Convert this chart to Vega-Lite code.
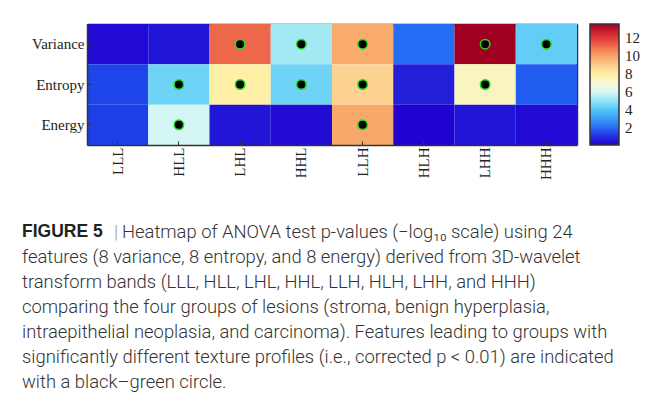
{
  "$schema": "https://vega.github.io/schema/vega-lite/v6.json",
  "background": "white",
  "padding": {"left": 22, "top": 23, "right": 5, "bottom": 5},
  "spacing": 40,
  "config": {"view": {"stroke": null}},
  "resolve": {"scale": {"color": "independent"}, "legend": {"color": "independent"}},
  "vconcat": [
    {
      "width": 490,
      "height": 121,
      "data": {"values": [
        {"feature": "Variance", "band": "LLL", "value": 0.3, "sig": false},
        {"feature": "Variance", "band": "HLL", "value": 0.5, "sig": false},
        {"feature": "Variance", "band": "LHL", "value": 11.2, "sig": true},
        {"feature": "Variance", "band": "HHL", "value": 5.3, "sig": true},
        {"feature": "Variance", "band": "LLH", "value": 9.8, "sig": true},
        {"feature": "Variance", "band": "HLH", "value": 2.1, "sig": false},
        {"feature": "Variance", "band": "LHH", "value": 13.6, "sig": true},
        {"feature": "Variance", "band": "HHH", "value": 4.3, "sig": true},
        {"feature": "Entropy", "band": "LLL", "value": 1.4, "sig": false},
        {"feature": "Entropy", "band": "HLL", "value": 4.5, "sig": true},
        {"feature": "Entropy", "band": "LHL", "value": 8.0, "sig": true},
        {"feature": "Entropy", "band": "HHL", "value": 4.5, "sig": true},
        {"feature": "Entropy", "band": "LLH", "value": 8.8, "sig": true},
        {"feature": "Entropy", "band": "HLH", "value": 0.7, "sig": false},
        {"feature": "Entropy", "band": "LHH", "value": 7.5, "sig": true},
        {"feature": "Entropy", "band": "HHH", "value": 1.8, "sig": false},
        {"feature": "Energy", "band": "LLL", "value": 1.3, "sig": false},
        {"feature": "Energy", "band": "HLL", "value": 6.0, "sig": true},
        {"feature": "Energy", "band": "LHL", "value": 0.5, "sig": false},
        {"feature": "Energy", "band": "HHL", "value": 0.3, "sig": false},
        {"feature": "Energy", "band": "LLH", "value": 9.9, "sig": true},
        {"feature": "Energy", "band": "HLH", "value": 0.2, "sig": false},
        {"feature": "Energy", "band": "LHH", "value": 0.5, "sig": false},
        {"feature": "Energy", "band": "HHH", "value": 0.3, "sig": false}
      ]},
      "layer": [
        {
          "mark": {"type": "rect"},
          "encoding": {
            "x": {"field": "band", "type": "nominal", "sort": ["LLL", "HLL", "LHL", "HHL", "LLH", "HLH", "LHH", "HHH"],
              "scale": {"paddingInner": 0, "paddingOuter": 0},
              "axis": {"title": null, "orient": "bottom", "labelAngle": 270, "labelFont": "Liberation Serif", "labelFontSize": 15, "labelColor": "#222",
                "domainColor": "#333", "domainWidth": 1.5, "tickColor": "#333", "tickSize": -4, "tickWidth": 1, "labelPadding": 6, "grid": false}},
            "y": {"field": "feature", "type": "nominal", "sort": ["Variance", "Entropy", "Energy"],
              "scale": {"paddingInner": 0, "paddingOuter": 0},
              "axis": {"title": null, "orient": "left", "labelFont": "Liberation Serif", "labelFontSize": 15, "labelColor": "#222",
                "domainColor": "#333", "domainWidth": 1.5, "tickColor": "#333", "tickSize": -4, "tickWidth": 1, "labelPadding": 7, "grid": false}},
            "color": {"field": "value", "type": "quantitative",
              "scale": {
                "domain": [0.15, 1, 2, 3, 4, 5, 6, 7, 8, 9, 10, 11, 12, 13, 13.6],
                "range": ["#2000d0", "#2428e0", "#2868f4", "#3a98f6", "#50c4f8", "#8ee2f8", "#d4f6f4", "#f6f8d8", "#fff0a8", "#fccc8c", "#f8a468", "#f07250", "#e03c3c", "#c01828", "#a00020"]
              },
              "legend": {"title": null, "orient": "right", "offset": 12, "padding": 0, "gradientLength": 121, "gradientThickness": 29,
                "gradientStrokeColor": "#333", "gradientStrokeWidth": 1.5, "values": [2, 4, 6, 8, 10, 12],
                "labelFont": "Liberation Serif", "labelFontSize": 15, "labelColor": "#222", "labelOffset": 6, "labelOverlap": false}}
          }
        },
        {
          "transform": [{"filter": "datum.sig"}],
          "mark": {"type": "point", "shape": "circle", "filled": true, "fill": "black", "stroke": "#22dd22", "strokeWidth": 1.5, "size": 90, "opacity": 1},
          "encoding": {
            "x": {"field": "band", "type": "nominal", "sort": ["LLL", "HLL", "LHL", "HHL", "LLH", "HLH", "LHH", "HHH"],
              "axis": {"title": null, "orient": "top", "labels": false, "domainColor": "#333", "domainWidth": 1.5, "tickColor": "#333", "tickSize": -4, "grid": false}},
            "y": {"field": "feature", "type": "nominal", "sort": ["Variance", "Entropy", "Energy"],
              "axis": {"title": null, "orient": "right", "labels": false, "domainColor": "#333", "domainWidth": 1.5, "tickColor": "#333", "tickSize": -4, "grid": false}}
          }
        }
      ],
      "resolve": {"axis": {"x": "independent", "y": "independent"}}
    },
    {
      "width": 490,
      "height": 174,
      "data": {"values": [
        {"line": 1, "text": "Heatmap of ANOVA test p-values (−log₁₀ scale) using 24"},
        {"line": 2, "text": "features (8 variance, 8 entropy, and 8 energy) derived from 3D-wavelet"},
        {"line": 3, "text": "transform bands (LLL, HLL, LHL, HHL, LLH, HLH, LHH, and HHH)"},
        {"line": 4, "text": "comparing the four groups of lesions (stroma, benign hyperplasia,"},
        {"line": 5, "text": "intraepithelial neoplasia, and carcinoma). Features leading to groups with"},
        {"line": 6, "text": "significantly different texture profiles (i.e., corrected p < 0.01) are indicated"},
        {"line": 7, "text": "with a black–green circle."}
      ]},
      "encoding": {
        "y": {"field": "line", "type": "ordinal", "scale": {"type": "point", "padding": 0.5, "domain": [1, 2, 3, 4, 5, 6, 7]}, "axis": null},
        "x": {"datum": 0, "type": "quantitative", "scale": {"domain": [0, 1]}, "axis": null}
      },
      "layer": [
        {
          "transform": [{"filter": "datum.line == 1"}],
          "mark": {"type": "text", "text": "FIGURE 5", "align": "left", "baseline": "middle", "dx": -65, "font": "Liberation Sans", "fontSize": 17.5, "fontWeight": "bold", "color": "#222"}
        },
        {
          "transform": [{"filter": "datum.line == 1"}],
          "mark": {"type": "text", "text": "|", "align": "left", "baseline": "middle", "dx": 27, "font": "Roboto", "fontSize": 18.4, "fontWeight": 300, "color": "#999"}
        },
        {
          "transform": [{"filter": "datum.line == 1"}],
          "mark": {"type": "text", "align": "left", "baseline": "middle", "dx": 35, "font": "Roboto", "fontSize": 18.4, "fontWeight": 300, "color": "#333"},
          "encoding": {"text": {"field": "text"}}
        },
        {
          "transform": [{"filter": "datum.line > 1"}],
          "mark": {"type": "text", "align": "left", "baseline": "middle", "dx": -65, "font": "Roboto", "fontSize": 18.4, "fontWeight": 300, "color": "#333"},
          "encoding": {"text": {"field": "text"}}
        }
      ]
    }
  ]
}
